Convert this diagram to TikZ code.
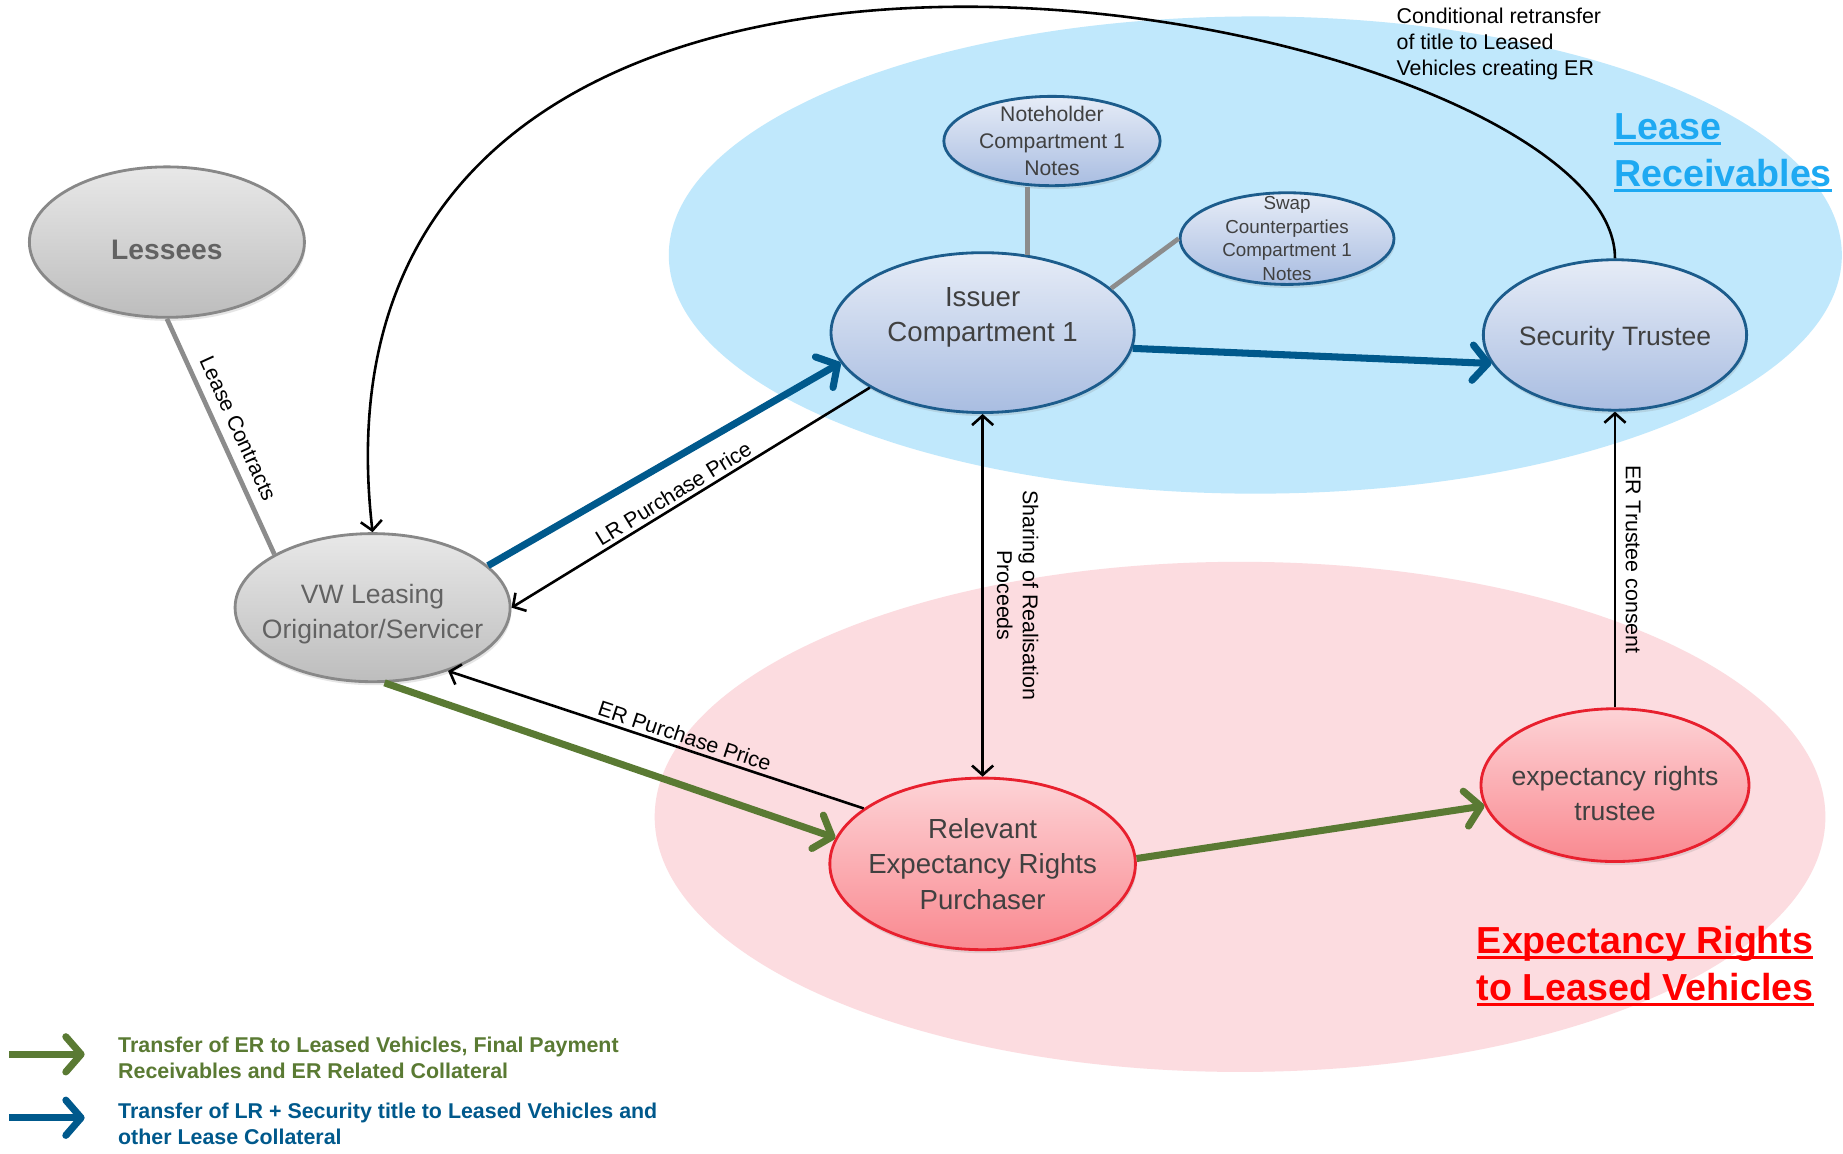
\documentclass[tikz,border=0pt]{standalone}
\usepackage{fontspec}
\setmainfont{Liberation Sans}
\usetikzlibrary{arrows.meta, shapes.geometric, shadows}
\definecolor{LRBlue}{HTML}{00598C}
\definecolor{ERGreen}{HTML}{5A7A33}
\definecolor{LeaseSky}{HTML}{C0E8FC}
\definecolor{ERBlush}{HTML}{FCDCE0}
\definecolor{TitleBlue}{HTML}{1EA9F2}
\definecolor{TitleRed}{HTML}{FF0000}
\definecolor{NodeBlue}{HTML}{1C5C8C}
\definecolor{NodeBlueTop}{HTML}{E6ECF7}
\definecolor{NodeBlueBot}{HTML}{A9BDE1}
\definecolor{NodeRed}{HTML}{E8202E}
\definecolor{NodeRedTop}{HTML}{FDD3D6}
\definecolor{NodeRedBot}{HTML}{F98990}
\definecolor{GreyEdge}{HTML}{888888}
\definecolor{GreyTop}{HTML}{E8E8E8}
\definecolor{GreyBot}{HTML}{BDBDBD}
\definecolor{LinkGrey}{HTML}{8C8C8C}
\definecolor{NodeInk}{HTML}{404040}
\definecolor{SoftInk}{HTML}{626262}

\newcommand{\titlebar}[1]{\setbox0\hbox{#1}\rlap{\rule[-4.5pt]{\wd0}{2.6pt}}\box0}

\begin{document}
\begin{tikzpicture}[
  x=1pt, y=1pt,
  party/.style={ellipse, inner sep=-12pt, align=center, line width=2.4pt,
                font=\fontsize{22.6}{30}\selectfont, text=NodeInk,
                drop shadow={opacity=0.2, shadow xshift=1pt, shadow yshift=-3pt}},
  issuerside/.style={party, draw=NodeBlue, top color=NodeBlueTop, bottom color=NodeBlueBot},
  noteside/.style={issuerside, font=\fontsize{18}{23}\selectfont},
  erside/.style={party, draw=NodeRed, top color=NodeRedTop, bottom color=NodeRedBot},
  originside/.style={party, draw=GreyEdge, top color=GreyTop, bottom color=GreyBot, text=SoftInk},
  lbl/.style={font=\fontsize{18.2}{22}\selectfont, text=black, inner sep=3pt},
  arr/.style={-{Straight Barb[length=8pt, width=18pt]}, line width=2.2pt},
  twoway/.style={{Straight Barb[length=8pt, width=18pt]}-{Straight Barb[length=8pt, width=18pt]}, line width=2.2pt},
  lrflow/.style={-{Straight Barb[length=13pt, width=30pt, round]}, draw=LRBlue, line width=6pt},
  erflow/.style={lrflow, draw=ERGreen},
  link/.style={draw=LinkGrey, line width=4pt},
  area/.style={font=\bfseries\fontsize{32}{40}\selectfont, align=left, anchor=west},
  legend/.style={font=\bfseries\fontsize{18.2}{22}\selectfont, align=left, anchor=west},
]
\useasboundingbox[fill=white] (0,0) rectangle (1568,981);

% --- the two pools ---
\fill[LeaseSky] (1068,764) ellipse [x radius=499pt, y radius=203pt];
\fill[ERBlush] (1055,286) ellipse [x radius=498pt, y radius=217pt];

\node[area, text=TitleBlue] (leasetitle) at (1370,851)
  {\titlebar{Lease}\\\titlebar{Receivables}};
\node[area, text=TitleRed] (ertitle) at (1253,159)
  {\titlebar{Expectancy Rights}\\\titlebar{to Leased Vehicles}};

% --- parties ---
\node[originside, font=\bfseries\fontsize{24}{30}\selectfont, text height=29pt,
      minimum width=234pt, minimum height=128pt]
  (lessees) at (142,775) {Lessees};
\node[originside, text height=58pt, minimum width=234pt, minimum height=126pt]
  (vw) at (317,464) {VW Leasing\\Originator/Servicer};
\node[issuerside, font=\fontsize{23.5}{30}\selectfont, text depth=31pt,
      minimum width=258pt, minimum height=136pt]
  (issuer) at (836,698) {Issuer\\Compartment 1};
\node[noteside, minimum width=184pt, minimum height=76pt]
  (noteholder) at (895,861) {Noteholder\\Compartment 1\\Notes};
\node[noteside, font=\fontsize{16}{20}\selectfont, minimum width=182pt, minimum height=78pt]
  (swap) at (1095,778) {Swap\\Counterparties\\Compartment 1\\Notes};
\node[issuerside, text height=22.5pt, minimum width=224pt, minimum height=128pt]
  (sectrustee) at (1374,696) {Security Trustee};
\node[erside, font=\fontsize{23.5}{30}\selectfont, minimum width=260pt, minimum height=146pt]
  (purchaser) at (836,246) {Relevant\\Expectancy Rights\\Purchaser};
\node[erside, text height=60.5pt, minimum width=228pt, minimum height=130pt]
  (ertrustee) at (1374,313) {expectancy rights\\trustee};

% --- plain links ---
\draw[link] (lessees.south) -- node[lbl, sloped, above=5pt] {Lease Contracts} (vw.north west);
\draw[link] (issuer.60 |- noteholder.south) -- (issuer.60);
\draw[link] (swap.west) -- (issuer.19);

% --- asset flows ---
\draw[lrflow] (vw.20) -- (issuer.192);
\draw[lrflow] (issuer.-6) -- (sectrustee.193);
\draw[erflow] (vw.-81) -- (purchaser.170);
\draw[erflow] (purchaser.2) -- (ertrustee.189);

% --- payments and consents ---
\draw[arr] (issuer.206) -- node[lbl, sloped, above, pos=0.53] {LR Purchase Price} (vw.east);
\draw[arr] (purchaser.155) -- node[lbl, sloped, above, pos=0.44] {ER Purchase Price} (vw.-40);
\draw[twoway] (issuer.south) -- node[lbl, xshift=8pt, rotate=-90, anchor=south, align=center]
  {Sharing of Realisation\\Proceeds} (purchaser.north);
\draw[arr] (ertrustee.north) -- node[lbl, xshift=5pt, rotate=-90, anchor=south] {ER Trustee consent} (sectrustee.south);
\draw[arr] (sectrustee.north) .. controls (1374,975) and (240,1195) .. (vw.north);
\node[lbl, anchor=north west, align=left] (retransfer) at (1185,977)
  {Conditional retransfer\\of title to Leased\\Vehicles creating ER};

% --- key ---
\coordinate (erkeyfrom) at (8,84);
\coordinate (erkeyto) at (72,84);
\draw[erflow] (erkeyfrom) -- (erkeyto);
\node[legend, text=ERGreen] (erkey) at (97,81)
  {Transfer of ER to Leased Vehicles, Final Payment\\Receivables and ER Related Collateral};
\coordinate (lrkeyfrom) at (8,30);
\coordinate (lrkeyto) at (72,30);
\draw[lrflow] (lrkeyfrom) -- (lrkeyto);
\node[legend, text=LRBlue] (lrkey) at (97,25)
  {Transfer of LR + Security title to Leased Vehicles and\\other Lease Collateral};

\end{tikzpicture}
\end{document}
